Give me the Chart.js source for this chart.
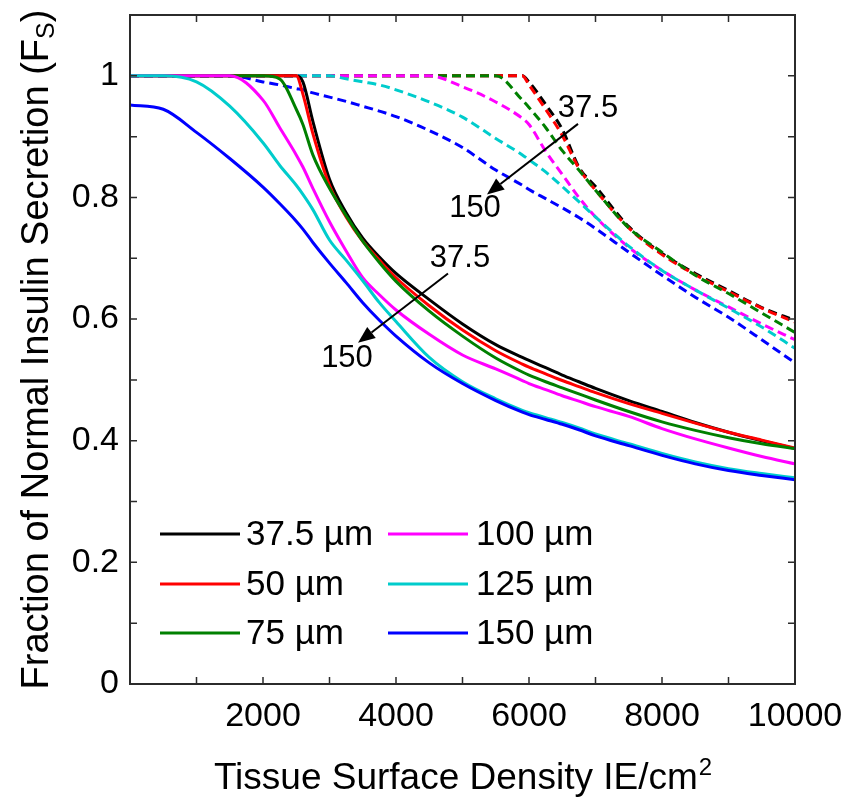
<!DOCTYPE html>
<html lang="en">
<head>
<meta charset="UTF-8" />
<title>Fraction of Normal Insulin Secretion</title>
<script src="https://cdn.jsdelivr.net/npm/chart.js"></script>
<style>
    html, body { margin: 0; padding: 0; background: #fff; }
    #wrap { width: 848px; height: 801px; position: relative; }
</style>
</head>
<body>
<div id="wrap"><canvas id="fsChart"></canvas></div>
<script>
// tissue surface density (IE/cm2), shared by every curve
const density = [0, 500, 1000, 1500, 2000, 2250, 2500, 2600, 2750, 3000, 3250, 3500, 3750, 4000,
    4500, 5000, 5500, 5900, 6000, 6250, 6500, 6750, 7000, 7500, 8000, 8500, 9000, 9500, 10000];

// solid curves
const solid375 = [1, 1, 1, 1, 1, 1, 1, 0.99, 0.925, 0.83, 0.775, 0.733, 0.702, 0.675,
    0.632, 0.592, 0.558, 0.537, 0.532, 0.520, 0.508, 0.497, 0.486, 0.466, 0.448, 0.430, 0.414, 0.400, 0.387];
const solid50 = [1, 1, 1, 1, 1, 1, 1, 0.97, 0.905, 0.82, 0.768, 0.728, 0.697, 0.668,
    0.622, 0.582, 0.548, 0.526, 0.521, 0.510, 0.499, 0.489, 0.479, 0.461, 0.445, 0.429, 0.414, 0.401, 0.388];
const solid75 = [1, 1, 1, 1, 1, 0.995, 0.945, 0.92, 0.87, 0.815, 0.77, 0.728, 0.693, 0.662,
    0.613, 0.572, 0.536, 0.513, 0.508, 0.497, 0.487, 0.477, 0.467, 0.448, 0.431, 0.417, 0.405, 0.395, 0.387];
const solid100 = [1, 1, 1, 1, 0.96, 0.915, 0.87, 0.85, 0.815, 0.76, 0.712, 0.668, 0.64, 0.615,
    0.575, 0.541, 0.518, 0.499, 0.494, 0.484, 0.474, 0.465, 0.456, 0.440, 0.42, 0.403, 0.388, 0.374, 0.362];
const solid125 = [1, 1, 0.99, 0.95, 0.89, 0.853, 0.82, 0.805, 0.78, 0.73, 0.697, 0.663, 0.627, 0.596,
    0.537, 0.497, 0.469, 0.450, 0.446, 0.438, 0.430, 0.421, 0.411, 0.395, 0.379, 0.365, 0.354, 0.346, 0.339];
const solid150 = [0.952, 0.945, 0.907, 0.864, 0.817, 0.790, 0.761, 0.748, 0.726, 0.692, 0.660, 0.627, 0.598, 0.572,
    0.528, 0.494, 0.466, 0.447, 0.443, 0.435, 0.427, 0.418, 0.408, 0.392, 0.376, 0.362, 0.351, 0.343, 0.336];

// dashed curves
const dash375 = [1, 1, 1, 1, 1, 1, 1, 1, 1, 1, 1, 1, 1, 1,
    1, 1, 1, 1, 0.99, 0.953, 0.912, 0.85, 0.818, 0.752, 0.708, 0.675, 0.647, 0.619, 0.598];
const dash50 = [1, 1, 1, 1, 1, 1, 1, 1, 1, 1, 1, 1, 1, 1,
    1, 1, 1, 1, 0.985, 0.945, 0.902, 0.848, 0.812, 0.75, 0.706, 0.673, 0.645, 0.618, 0.595];
const dash75 = [1, 1, 1, 1, 1, 1, 1, 1, 1, 1, 1, 1, 1, 1,
    1, 1, 1, 0.96, 0.948, 0.915, 0.877, 0.845, 0.812, 0.75, 0.71, 0.672, 0.642, 0.61, 0.578];
const dash100 = [1, 1, 1, 1, 1, 1, 1, 1, 1, 1, 1, 1, 1, 1,
    1, 0.982, 0.957, 0.93, 0.92, 0.876, 0.838, 0.80, 0.768, 0.718, 0.68, 0.648, 0.62, 0.592, 0.566];
const dash125 = [1, 1, 1, 1, 1, 1, 1, 1, 1, 1, 0.995, 0.99, 0.985, 0.977,
    0.957, 0.932, 0.897, 0.87, 0.862, 0.842, 0.818, 0.793, 0.768, 0.72, 0.68, 0.648, 0.618, 0.587, 0.552];
const dash150 = [1, 1, 1, 1, 0.99, 0.985, 0.979, 0.977, 0.972, 0.965, 0.958, 0.95, 0.942, 0.933,
    0.91, 0.882, 0.845, 0.82, 0.813, 0.798, 0.783, 0.767, 0.749, 0.71, 0.672, 0.636, 0.603, 0.566, 0.528];

const sizeLabels = ["37.5 \u00b5m", "50 \u00b5m", "75 \u00b5m", "100 \u00b5m", "125 \u00b5m", "150 \u00b5m"];
const sizeColors = ["#000000", "#ff0000", "#008000", "#ff00ff", "#00cccc", "#0000ff"];

// arrows: [x0, y0, x1, y1] in data units, and labels [text, x, y]
const arrows = [[6737, 0.921, 5368, 0.805], [4782, 0.675, 3429, 0.561]];
const arrowLabels = [["37.5", 6887, 0.946], ["150", 5188, 0.782], ["37.5", 4962, 0.700], ["150", 3263, 0.536]];

const FONT = '"Liberation Sans", Arial, Helvetica, sans-serif';

function toPoints(values) {
    return density.map((x, i) => ({ x: x, y: values[i] }));
}

const solidSets = [solid375, solid50, solid75, solid100, solid125, solid150];
const dashSets = [dash375, dash50, dash75, dash100, dash125, dash150];

const datasets = [];
dashSets.forEach((vals, i) => {
    datasets.push({
        label: "",
        data: toPoints(vals),
        borderColor: sizeColors[i],
        borderWidth: 3,
        borderDash: [9, 5],
        pointRadius: 0,
        cubicInterpolationMode: "monotone",
        order: 20 - i,
    });
});
solidSets.forEach((vals, i) => {
    datasets.push({
        label: sizeLabels[i],
        data: toPoints(vals),
        borderColor: sizeColors[i],
        borderWidth: 3,
        pointRadius: 0,
        cubicInterpolationMode: "monotone",
        order: 10 - i,
    });
});

// drop the label overhang so the plot box sits where the layout padding says
function noOverhang(s) {
    s.paddingTop = 0;
    s.paddingBottom = 0;
    s.paddingLeft = 0;
    s.paddingRight = 0;
}

const framePlugin = {
    id: "frame",
    afterDatasetsDraw(chart) {
        const { ctx, chartArea: a, scales } = chart;
        ctx.save();
        ctx.strokeStyle = "#2b2b2b";
        ctx.lineWidth = 1.5;
        ctx.beginPath();
        scales.x.ticks.forEach((t) => {
            const px = scales.x.getPixelForValue(t.value);
            ctx.moveTo(px, a.bottom); ctx.lineTo(px, a.bottom - 7);
            ctx.moveTo(px, a.top); ctx.lineTo(px, a.top + 7);
        });
        scales.y.ticks.forEach((t) => {
            const py = scales.y.getPixelForValue(t.value);
            ctx.moveTo(a.left, py); ctx.lineTo(a.left + 7, py);
            ctx.moveTo(a.right, py); ctx.lineTo(a.right - 7, py);
        });
        ctx.stroke();
        ctx.lineWidth = 2;
        ctx.strokeRect(a.left, a.top, a.right - a.left, a.bottom - a.top);

        // arrows with labels
        ctx.strokeStyle = "#000";
        ctx.fillStyle = "#000";
        ctx.lineWidth = 2;
        arrows.forEach(([x0, y0, x1, y1]) => {
            const sx = scales.x.getPixelForValue(x0), sy = scales.y.getPixelForValue(y0);
            const ex = scales.x.getPixelForValue(x1), ey = scales.y.getPixelForValue(y1);
            const ang = Math.atan2(ey - sy, ex - sx);
            const headLen = 17, headW = 7;
            const bx = ex - headLen * Math.cos(ang), by = ey - headLen * Math.sin(ang);
            ctx.beginPath();
            ctx.moveTo(sx, sy);
            ctx.lineTo(bx, by);
            ctx.stroke();
            ctx.beginPath();
            ctx.moveTo(ex, ey);
            ctx.lineTo(bx + headW * Math.sin(ang), by - headW * Math.cos(ang));
            ctx.lineTo(bx - headW * Math.sin(ang), by + headW * Math.cos(ang));
            ctx.closePath();
            ctx.fill();
        });
        ctx.font = "31px " + FONT;
        ctx.textAlign = "center";
        ctx.textBaseline = "middle";
        arrowLabels.forEach(([txt, x, y]) => {
            ctx.fillText(txt, scales.x.getPixelForValue(x), scales.y.getPixelForValue(y));
        });
        ctx.restore();
    },
};

const legendPlugin = {
    id: "boxLegend",
    afterDraw(chart) {
        const { ctx } = chart;
        const rows = [534, 584, 633];
        const cols = [[160, 240, 246], [388, 468, 476]];
        ctx.save();
        ctx.font = "35px " + FONT;
        ctx.textBaseline = "middle";
        ctx.textAlign = "left";
        sizeLabels.forEach((lab, i) => {
            const c = cols[Math.floor(i / 3)], r = rows[i % 3];
            ctx.strokeStyle = sizeColors[i];
            ctx.lineWidth = 3;
            ctx.beginPath();
            ctx.moveTo(c[0], r);
            ctx.lineTo(c[1], r);
            ctx.stroke();
            ctx.fillStyle = "#000";
            ctx.fillText(lab, c[2], r + 1);
        });
        ctx.restore();
    },
};

const titlePlugin = {
    id: "axisTitles",
    afterDraw(chart) {
        const { ctx, chartArea: a } = chart;
        ctx.save();
        ctx.fillStyle = "#000";
        ctx.textBaseline = "alphabetic";
        ctx.textAlign = "left";

        // x title with superscript
        const xMain = "Tissue Surface Density IE/cm";
        ctx.font = "37px " + FONT;
        const w1 = ctx.measureText(xMain).width;
        ctx.font = "24px " + FONT;
        const w2 = ctx.measureText("2").width;
        const x0 = (a.left + a.right) / 2 - (w1 + w2) / 2;
        ctx.font = "37px " + FONT;
        ctx.fillText(xMain, x0, 789);
        ctx.font = "24px " + FONT;
        ctx.fillText("2", x0 + w1 + 1, 775);

        // y title with subscript
        const yMain = "Fraction of Normal Insulin Secretion (F";
        ctx.font = "38px " + FONT;
        const m1 = ctx.measureText(yMain).width;
        const m3 = ctx.measureText(")").width;
        ctx.font = "25px " + FONT;
        const m2 = ctx.measureText("S").width;
        ctx.translate(48, (a.top + a.bottom) / 2);
        ctx.rotate(-Math.PI / 2);
        const t0 = -(m1 + m2 + m3) / 2;
        ctx.font = "38px " + FONT;
        ctx.fillText(yMain, t0, 0);
        ctx.font = "25px " + FONT;
        ctx.fillText("S", t0 + m1, 6);
        ctx.font = "38px " + FONT;
        ctx.fillText(")", t0 + m1 + m2, 0);
        ctx.restore();
    },
};

new Chart(document.getElementById("fsChart"), {
    type: "line",
    data: { datasets: datasets },
    options: {
        responsive: true,
        maintainAspectRatio: false,
        animation: false,
        layout: { padding: { top: 15, right: 53, left: 0, bottom: 0 } },
        plugins: {
            legend: { display: false },
            tooltip: { enabled: false },
        },
        scales: {
            x: {
                type: "linear",
                min: 0,
                max: 10000,
                grid: { display: false, drawTicks: false },
                border: { display: false },
                afterFit: (s) => { s.height = 117; noOverhang(s); },
                ticks: {
                    stepSize: 1000,
                    autoSkip: false,
                    maxRotation: 0,
                    padding: 12,
                    color: "#000",
                    font: { family: FONT, size: 34 },
                    callback: (v) => (v > 0 && v % 2000 === 0 ? String(v) : ""),
                },
            },
            y: {
                min: 0,
                max: 1.1,
                grid: { display: false, drawTicks: false },
                border: { display: false },
                afterFit: (s) => { s.width = 130; noOverhang(s); },
                ticks: {
                    stepSize: 0.1,
                    autoSkip: false,
                    padding: 11,
                    color: "#000",
                    font: { family: FONT, size: 34 },
                    callback: (v) => {
                        const k = Math.round(v * 10);
                        if (k % 2 !== 0 || k > 10) return "";
                        return String(k / 10);
                    },
                },
            },
        },
    },
    plugins: [framePlugin, legendPlugin, titlePlugin],
});
</script>
</body>
</html>
